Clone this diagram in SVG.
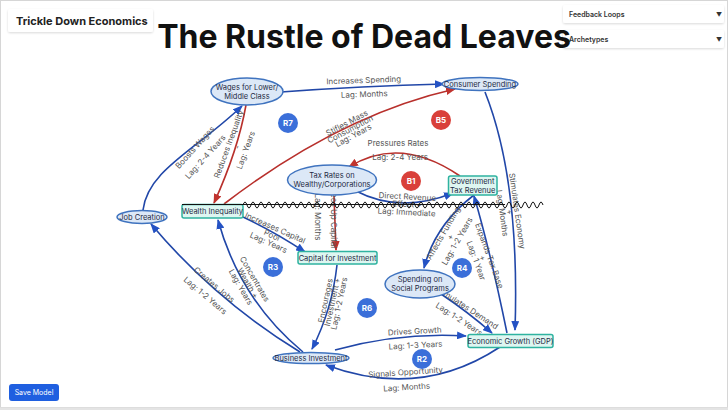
<svg xmlns="http://www.w3.org/2000/svg" width="728" height="410" viewBox="0 0 728 410">
<defs>
<style>
.ui{font-family:Inter,"Liberation Sans",sans-serif}
.lbl{font-family:Inter,"Liberation Sans",sans-serif;font-size:8px;fill:#555;text-anchor:middle}
.nt{font-family:Inter,"Liberation Sans",sans-serif;font-size:7.5px;fill:#1f2a44;text-anchor:middle}
.eb{stroke:#2147a8;fill:none;stroke-width:1.6;marker-end:url(#ab)}
.er{stroke:#b8302c;fill:none;stroke-width:1.6;marker-end:url(#ar)}
.ell{fill:#dce8f7;stroke:#3f73bf;stroke-width:1.5}
.box{fill:#def6f1;stroke:#2fb3a0;stroke-width:1.5}
.lb{fill:#3b6fd9}
.lr{fill:#d9403a}
.lt{font-family:Inter,"Liberation Sans",sans-serif;font-size:8px;font-weight:700;fill:#fff;text-anchor:middle}
</style>
<marker id="ab" viewBox="0 0 10 8" refX="9" refY="4" markerWidth="10" markerHeight="8" markerUnits="userSpaceOnUse" orient="auto"><path d="M0,0 L10,4 L0,8 z" fill="#2452c4"/></marker>
<marker id="ar" viewBox="0 0 10 8" refX="9" refY="4" markerWidth="10" markerHeight="8" markerUnits="userSpaceOnUse" orient="auto"><path d="M0,0 L10,4 L0,8 z" fill="#c0332e"/></marker>
<filter id="sh" x="-10%" y="-30%" width="120%" height="160%"><feDropShadow dx="0" dy="1" stdDeviation="1.2" flood-color="#000" flood-opacity="0.15"/></filter>
</defs>
<rect x="0.5" y="0.5" width="727" height="407" fill="#fff" stroke="#d6d6d6"/>
<rect x="0" y="407.5" width="728" height="2.5" fill="#e4e4e4"/>

<g id="ui">
<rect x="8" y="9" width="145" height="23" rx="2" fill="#fff" filter="url(#sh)"/>
<text x="16" y="24.5" class="ui" font-size="11" font-weight="700" fill="#222">Trickle Down Economics</text>
<rect x="563" y="5" width="161" height="18" rx="2" fill="#fff" filter="url(#sh)"/>
<text x="569" y="16.5" class="ui" font-size="7" font-weight="600" fill="#333">Feedback Loops</text>
<text x="716" y="16.5" class="ui" font-size="6" fill="#333">▼</text>
<rect x="563" y="30" width="161" height="18" rx="2" fill="#fff" filter="url(#sh)"/>
<text x="569" y="41.5" class="ui" font-size="7" font-weight="600" fill="#333">Archetypes</text>
<text x="716" y="41.5" class="ui" font-size="6" fill="#333">▼</text>
<text x="364" y="48" class="ui" font-size="32" font-weight="700" fill="#111" text-anchor="middle">The Rustle of Dead Leaves</text>
<rect x="9" y="384" width="50" height="17" rx="3" fill="#1f5fe0"/>
<text x="34" y="395" class="ui" font-size="7" fill="#fff" text-anchor="middle">Save Model</text>
</g>

<g id="connectors">
<path class="eb" d="M281,92 Q362,86 444,84" stroke-width="2"/>
<path class="er" d="M224,204 Q340,115 455,89"/>
<path class="er" d="M246,105 Q238,150 214,203"/>
<path class="eb" d="M143,210 C148,170 196,150 242,106"/>
<path class="eb" d="M485,92 Q520,180 515,330" stroke-width="2"/>
<path class="er" d="M460,176 Q400,135 349,167"/>
<path class="eb" d="M356,191 Q400,214 453,193" stroke-width="3"/>
<path class="er" d="M334,196 L336,250" stroke-width="2"/>
<path class="eb" d="M243,217 Q275,232 305,252"/>
<path class="eb" d="M303,352 Q240,300 218,220"/>
<path class="eb" d="M300,352 Q215,300 151,224"/>
<path class="eb" d="M337,265 Q332,310 312,349" stroke-width="1.8"/>
<path class="eb" d="M474,195 Q435,225 424,268" stroke-width="2"/>
<path class="eb" d="M507,333 Q490,250 474,196"/>
<path class="eb" d="M441,294 Q468,312 492,333"/>
<path class="eb" d="M335,350 Q400,332 466,336" stroke-width="2.5"/>
<path class="eb" d="M500,347 Q420,400 326,365" stroke-width="1.3"/>

<g transform="translate(364,87) rotate(-2)"><text class="lbl" y="-4">Increases Spending</text><text class="lbl" y="10">Lag: Months</text></g>
<g transform="translate(350,129) rotate(-28)"><text class="lbl" y="-4">Stifles Mass</text><text class="lbl" y="3">Consumption</text><text class="lbl" y="10">Lag: Years</text></g>
<g transform="translate(237,147) rotate(-70)"><text class="lbl" y="-6">Reduces Inequality</text><text class="lbl" y="3">-</text><text class="lbl" y="12">Lag: Years</text></g>
<g transform="translate(200,152) rotate(-48)"><text class="lbl" y="-4">Boosts Wages</text><text class="lbl" y="10">Lag: 2-4 Years</text></g>
<g transform="translate(510,212) rotate(82)"><text class="lbl" y="-4.5">Stimulates Economy</text><text class="lbl" y="3">+</text><text class="lbl" y="10.5">Lag: Months</text></g>
<text class="lbl" x="398" y="146">Pressures Rates</text>
<text class="lbl" x="400" y="160">Lag: 2-4 Years</text>
<g transform="translate(407,204) rotate(3)"><text class="lbl" y="-4.5">Direct Revenue</text><text class="lbl" y="3">Effect +</text><text class="lbl" y="11">Lag: Immediate</text></g>
<g transform="translate(326,217) rotate(90)"><text class="lbl" y="-5">Frees Up Capital</text><text class="lbl" y="11">Lag: Months</text></g>
<g transform="translate(272,235) rotate(24)"><text class="lbl" y="-5">Increases Capital</text><text class="lbl" y="3">Pool</text><text class="lbl" y="11">Lag: Years</text></g>
<g transform="translate(248,283) rotate(60)"><text class="lbl" y="-5">Concentrates</text><text class="lbl" y="3">Wealth +</text><text class="lbl" y="11">Lag: Years</text></g>
<g transform="translate(210,290) rotate(40)"><text class="lbl" y="-4">Creates Jobs</text><text class="lbl" y="10">Lag: 1-2 Years</text></g>
<g transform="translate(332,302) rotate(-78)"><text class="lbl" y="-4">Encourages</text><text class="lbl" y="3">Investment +</text><text class="lbl" y="10">Lag: 1-2 Years</text></g>
<g transform="translate(450,237) rotate(-60)"><text class="lbl" y="-5">Affects Funding</text><text class="lbl" y="3">+</text><text class="lbl" y="11">Lag: 1-2 Years</text></g>
<g transform="translate(483,258) rotate(70)"><text class="lbl" y="-4">Expands Tax Base</text><text class="lbl" y="3">+</text><text class="lbl" y="10">Lag: 1 Year</text></g>
<g transform="translate(463,313) rotate(33)"><text class="lbl" y="-4">Stimulates Demand</text><text class="lbl" y="10">Lag: 1-2 Years</text></g>
<g transform="translate(415,338) rotate(-3)"><text class="lbl" y="-4">Drives Growth</text><text class="lbl" y="10">Lag: 1-3 Years</text></g>
<g transform="translate(406,379) rotate(-4)"><text class="lbl" y="-4">Signals Opportunity</text><text class="lbl" y="11">Lag: Months</text></g>
</g>

<g id="loops">
<g id="R7"><circle class="lb" cx="288" cy="123" r="10"/><text class="lt" x="288" y="126">R7</text></g>
<g id="B5"><circle class="lr" cx="441" cy="120" r="10"/><text class="lt" x="441" y="123">B5</text></g>
<g id="B1"><circle class="lr" cx="411" cy="181" r="10"/><text class="lt" x="411" y="184">B1</text></g>
<g id="R3"><circle class="lb" cx="273" cy="267" r="10"/><text class="lt" x="273" y="270">R3</text></g>
<g id="R6"><circle class="lb" cx="367" cy="308" r="10"/><text class="lt" x="367" y="311">R6</text></g>
<g id="R4"><circle class="lb" cx="462" cy="268" r="10"/><text class="lt" x="462" y="271">R4</text></g>
<g id="R2"><circle class="lb" cx="422" cy="359" r="10"/><text class="lt" x="422" y="362">R2</text></g>
</g>

<g id="n-wages"><ellipse class="ell" cx="247" cy="91.5" rx="36" ry="13.5"/><text class="nt" x="247" y="89.5">Wages for Lower/</text><text class="nt" x="247" y="98.5">Middle Class</text></g>
<g id="n-consumer"><ellipse class="ell" cx="480" cy="84" rx="38" ry="6.5"/><text class="nt" x="480" y="86.8">Consumer Spending</text></g>
<g id="n-taxrates"><ellipse class="ell" cx="332" cy="180" rx="44.5" ry="15" stroke-width="2.5"/><text class="nt" x="332" y="178">Tax Rates on</text><text class="nt" x="332" y="187">Wealthy/Corporations</text></g>
<g id="n-govrev"><rect class="box" x="448.5" y="176" width="48.5" height="19" rx="2"/><text class="nt" x="472.7" y="183.5">Government</text><text class="nt" x="472.7" y="192.5">Tax Revenue</text></g>
<g id="n-jobs"><ellipse class="ell" cx="142" cy="217" rx="25" ry="6.5"/><text class="nt" x="142" y="219.8">Job Creation</text></g>
<g id="n-wealth"><rect class="box" x="182" y="204.5" width="61" height="13.5" rx="2"/><text class="nt" x="212.5" y="214">Wealth Inequality</text></g>
<g id="n-capital"><rect class="box" x="298" y="251.5" width="79" height="12.5" rx="2"/><text class="nt" x="337.5" y="260.5">Capital for Investment</text></g>
<g id="n-social"><ellipse class="ell" cx="420" cy="284" rx="35" ry="14"/><text class="nt" x="420" y="282">Spending on</text><text class="nt" x="420" y="291">Social Programs</text></g>
<g id="n-business"><ellipse class="ell" cx="311" cy="358" rx="38" ry="5.5"/><text class="nt" x="311" y="360.8">Business Investment</text></g>
<g id="n-gdp"><rect class="box" x="468" y="334.5" width="85" height="13" rx="2"/><text class="nt" x="510.5" y="343.8">Economic Growth (GDP)</text></g>

<g id="squiggle" fill="none" stroke="#111" stroke-width="1">
<path d="M182,204.5 L505,204.5"/>
<path d="M243,205 q2,-6 4,0 t4,0 t4,0 t4,0 t4,0 t4,0 t4,0 t4,0 t4,0 t4,0 t4,0 t4,0 t4,0 t4,0 t4,0 t4,0 t4,0 t4,0 t4,0 t4,0 t4,0 t4,0 t4,0 t4,0 t4,0 t4,0 t4,0 t4,0 t4,0 t4,0 t4,0 t4,0 t4,0 t4,0 t4,0 t4,0 t4,0 t4,0 t4,0 t4,0 t4,0 t4,0 t4,0 t4,0 t4,0 t4,0 t4,0 t4,0 t4,0 t4,0 t4,0 t4,0 t4,0 t4,0 t4,0 t4,0 t4,0 t4,0 t4,0 t4,0 t4,0 t4,0 t4,0 t4,0 t4,0 t4,0 t4,0 t4,0 t4,0 t4,0 t4,0 t4,0 t4,0 t4,0 t4,0"/>
</g>
</svg>
